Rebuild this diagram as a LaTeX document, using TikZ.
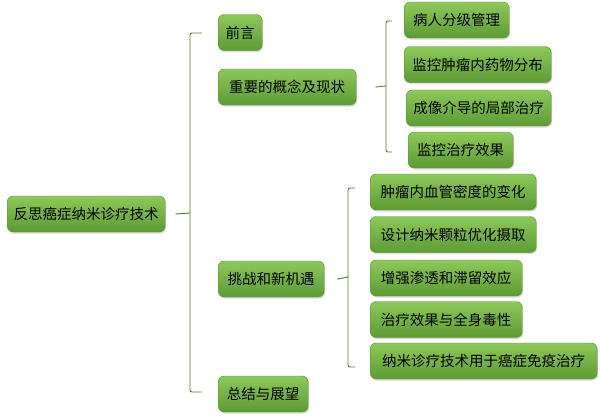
\documentclass[tikz,border=0pt]{standalone}
\usepackage{fontspec}
\newfontfamily\cjk{Noto Sans CJK SC}
\usetikzlibrary{shadows}
\definecolor{boxtop}{HTML}{8DC85A}
\definecolor{boxbot}{HTML}{5C9C34}
\definecolor{boxedge}{HTML}{5A8F36}
\definecolor{braceline}{HTML}{4E7D2A}
\tikzstyle{topic} = [rectangle, rounded corners=6pt, minimum height=36pt, inner xsep=6pt,
	top color=boxtop, bottom color=boxbot, draw=boxedge, line width=.4pt,
	drop shadow={opacity=.3, shadow xshift=1pt, shadow yshift=-1.5pt},
	font=\cjk\fontsize{14.5}{16}\selectfont, text=black, anchor=west]
\tikzstyle{brace} = [draw=braceline, line width=.9pt, rounded corners=2pt]

\begin{document}
\begin{tikzpicture}[x=1pt, y=-1pt]
			\useasboundingbox (0,0) rectangle (600,416);
			% root and first level
			\node [topic, minimum width=158pt] (root) at (7,214) {反思癌症纳米诊疗技术};
			\node [topic, minimum width=44pt] (intro) at (218,32.5) {前言};
			\node [topic, minimum width=138pt] (concept) at (218,87) {重要的概念及现状};
			\node [topic, minimum width=106pt] (challenge) at (218,279) {挑战和新机遇};
			\node [topic, minimum width=90pt] (summary) at (218,394) {总结与展望};
			% concepts
			\node [topic, minimum width=105pt] (grade) at (404,20) {病人分级管理};
			\node [topic, minimum width=147pt] (drug) at (404,64.5) {监控肿瘤内药物分布};
			\node [topic, minimum width=145pt] (image) at (406,108) {成像介导的局部治疗};
			\node [topic, minimum width=105pt] (effect) at (408,150) {监控治疗效果};
			% challenges
			\node [topic, minimum width=166pt] (vessel) at (370,192) {肿瘤内血管密度的变化};
			\node [topic, minimum width=166pt] (design) at (370,234.5) {设计纳米颗粒优化摄取};
			\node [topic, minimum width=152pt] (epr) at (370,278) {增强渗透和滞留效应};
			\node [topic, minimum width=152pt] (toxic) at (370,319.5) {治疗效果与全身毒性};
			\node [topic, minimum width=227pt] (immune) at (370,361) {纳米诊疗技术用于癌症免疫治疗};
			% braces
			\coordinate (rootTop) at (202,33);
			\coordinate (rootBot) at (202,392);
			\coordinate (rootMid) at (190,213);
			\draw [brace] (rootTop) -| (rootMid) |- (rootBot);
			\draw [brace] ([xshift=10pt]root.east) -- (rootMid);
			\coordinate (conTop) at (392,21);
			\coordinate (conBot) at (392,152);
			\coordinate (conMid) at (386,86);
			\draw [brace] (conTop) -| (conMid) |- (conBot);
			\draw [brace] ([xshift=19pt]concept.east) -- (conMid);
			\coordinate (chaTop) at (355,188);
			\coordinate (chaBot) at (355,367);
			\coordinate (chaMid) at (348,277);
			\draw [brace] (chaTop) -| (chaMid) |- (chaBot);
			\draw [brace] ([xshift=13pt]challenge.east) -- (chaMid);
		\end{tikzpicture}
\end{document}
